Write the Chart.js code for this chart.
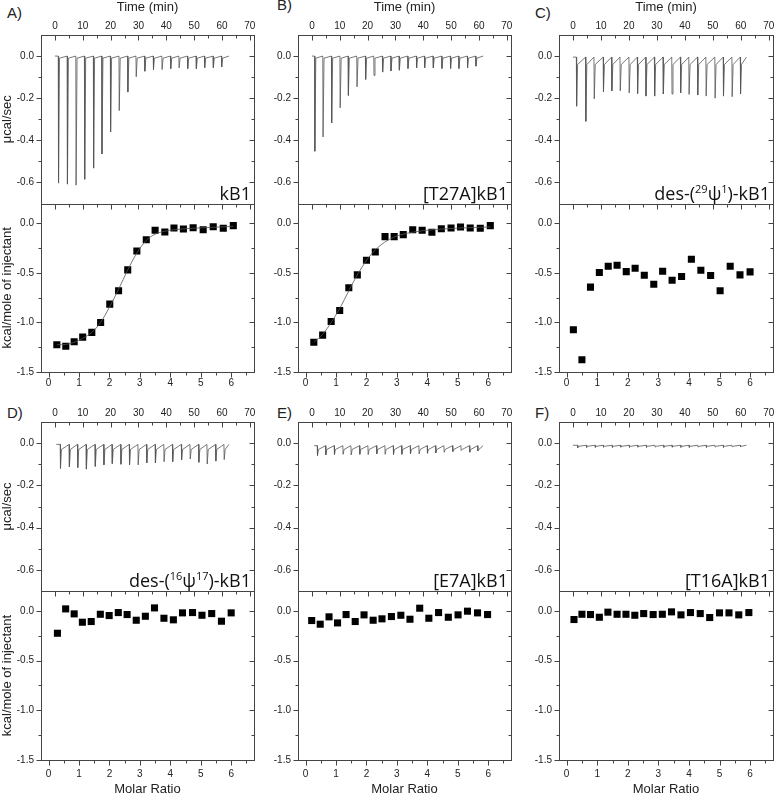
<!DOCTYPE html>
<html>
<head>
<meta charset="utf-8">
<script src="https://cdn.jsdelivr.net/npm/chart.js@4.4.1/dist/chart.umd.min.js"></script>
<style>
  html, body { margin: 0; padding: 0; overflow: hidden; background: #fff; }
  body { width: 778px; height: 794px; position: relative; }
  canvas { position: absolute; }
  .letter { position: absolute; font: 15px "Liberation Sans", Arial, sans-serif; line-height: 15px; color: #222; }
</style>
</head>
<body>
<div class="letter" style="left:7px;top:5px">A)</div>
<div class="letter" style="left:277px;top:-3px">B)</div>
<div class="letter" style="left:535px;top:5px">C)</div>
<div class="letter" style="left:7px;top:405px">D)</div>
<div class="letter" style="left:277px;top:405px">E)</div>
<div class="letter" style="left:535px;top:405px">F)</div>
<script>
// Axis tick labels
const timeTicks = [0, 10, 20, 30, 40, 50, 60, 70];
const molarTicks = [0, 1, 2, 3, 4, 5, 6];
const rateTicks = [-0.6, -0.4, -0.2, 0.0];
const heatTicks = [-1.5, -1.0, -0.5, 0.0];

// Raw thermograms: injection times (min), peak depth (ucal/sec), [baseline, level after peak], [start, end]
const injTimeA = [1.2, 4.4, 7.5, 10.6, 13.8, 16.8, 19.9, 23.0, 26.1, 29.1, 32.2, 35.3, 38.4, 41.5, 44.5, 47.6, 50.7, 53.7, 56.8, 59.8];
const peakA = [-0.603, -0.608, -0.613, -0.585, -0.532, -0.465, -0.36, -0.259, -0.171, -0.098, -0.072, -0.064, -0.064, -0.06, -0.056, -0.06, -0.06, -0.055, -0.055, -0.052];
const levelsA = [0.0, -0.01];
const spanA = [0, 62.5];

const injTimeB = [0.95, 3.9, 7.0, 10.05, 13.0, 16.1, 19.2, 22.2, 25.3, 28.3, 31.3, 34.4, 37.5, 40.4, 43.5, 46.6, 49.7, 52.7, 55.8, 58.8];
const peakB = [-0.452, -0.384, -0.317, -0.246, -0.187, -0.146, -0.111, -0.092, -0.076, -0.071, -0.067, -0.059, -0.056, -0.056, -0.056, -0.059, -0.059, -0.059, -0.056, -0.048];
const levelsB = [0.0, -0.01];
const spanB = [0, 61.5];

const injTimeC = [1.2, 4.5, 7.5, 10.8, 13.8, 16.8, 20.0, 23.0, 26.0, 29.1, 32.2, 35.3, 38.4, 41.4, 44.5, 47.5, 50.7, 53.7, 56.8, 59.8];
const peakC = [-0.238, -0.31, -0.203, -0.17, -0.165, -0.165, -0.175, -0.178, -0.19, -0.19, -0.18, -0.18, -0.175, -0.182, -0.185, -0.19, -0.2, -0.19, -0.193, -0.18];
const levelsC = [-0.005, -0.04];
const spanC = [0, 62];

const injTimeD = [1.9, 5.1, 8.1, 11.2, 14.4, 17.5, 20.5, 23.6, 26.7, 29.8, 32.9, 36.0, 39.1, 42.2, 45.4, 48.5, 51.6, 54.6, 57.7, 60.7];
const peakD = [-0.12, -0.113, -0.116, -0.123, -0.11, -0.103, -0.097, -0.1, -0.103, -0.103, -0.094, -0.094, -0.088, -0.088, -0.08, -0.075, -0.091, -0.099, -0.085, -0.078];
const levelsD = [-0.006, -0.03];
const spanD = [0.5, 62.5];

const injTimeE = [1.9, 4.9, 8.0, 11.1, 14.0, 17.1, 20.1, 23.2, 26.2, 29.2, 32.2, 35.3, 38.4, 41.4, 44.4, 47.4, 50.5, 53.5, 56.6, 59.5];
const peakE = [-0.059, -0.056, -0.054, -0.053, -0.056, -0.053, -0.054, -0.051, -0.053, -0.054, -0.053, -0.051, -0.051, -0.048, -0.046, -0.043, -0.04, -0.035, -0.043, -0.037];
const levelsE = [-0.012, -0.03];
const spanE = [0.8, 61.5];

const injTimeF = [1.6, 4.8, 7.9, 10.8, 14.0, 17.0, 20.1, 23.1, 26.2, 29.3, 32.4, 35.4, 38.5, 41.5, 44.6, 47.6, 50.7, 53.7, 56.8, 59.8];
const peakF = [-0.022, -0.02, -0.02, -0.019, -0.02, -0.019, -0.02, -0.019, -0.02, -0.019, -0.02, -0.019, -0.02, -0.02, -0.019, -0.02, -0.019, -0.02, -0.018, -0.017];
const levelsF = [-0.01, -0.015];
const spanF = [0, 62];

// Integrated heats: molar ratio, kcal/mole of injectant
const ratioA = [0.27, 0.565, 0.84, 1.12, 1.42, 1.71, 2.01, 2.30, 2.60, 2.90, 3.21, 3.50, 3.82, 4.12, 4.43, 4.75, 5.08, 5.41, 5.74, 6.07];
const heatA = [-1.225, -1.24, -1.195, -1.148, -1.10, -1.0, -0.815, -0.68, -0.47, -0.28, -0.165, -0.07, -0.087, -0.047, -0.057, -0.044, -0.064, -0.034, -0.05, -0.023];
const fitRatioA = [0.27, 0.56, 0.84, 1.12, 1.42, 1.71, 2.0, 2.3, 2.6, 2.9, 3.2, 3.5, 3.82, 4.12, 4.75, 5.41, 6.07];
const fitHeatA = [-1.225, -1.222, -1.2, -1.16, -1.1, -1.0, -0.845, -0.665, -0.47, -0.3, -0.175, -0.11, -0.08, -0.065, -0.05, -0.04, -0.03];

const ratioB = [0.27, 0.56, 0.84, 1.12, 1.42, 1.70, 2.0, 2.29, 2.61, 2.91, 3.21, 3.52, 3.83, 4.15, 4.46, 4.78, 5.09, 5.41, 5.74, 6.07];
const heatB = [-1.20, -1.128, -0.99, -0.88, -0.65, -0.52, -0.372, -0.29, -0.134, -0.134, -0.114, -0.064, -0.07, -0.09, -0.054, -0.047, -0.037, -0.047, -0.05, -0.023];
const fitRatioB = [0.27, 0.56, 0.84, 1.12, 1.42, 1.7, 2.0, 2.3, 2.6, 2.9, 3.2, 3.52, 3.83, 4.46, 5.09, 5.74, 6.07];
const fitHeatB = [-1.2, -1.12, -1.0, -0.86, -0.68, -0.52, -0.375, -0.265, -0.19, -0.14, -0.11, -0.09, -0.075, -0.058, -0.047, -0.04, -0.036];

const ratioC = [0.22, 0.5, 0.78, 1.07, 1.36, 1.65, 1.95, 2.24, 2.54, 2.85, 3.14, 3.45, 3.76, 4.08, 4.39, 4.71, 5.02, 5.35, 5.67, 6.0];
const heatC = [-1.074, -1.376, -0.644, -0.497, -0.433, -0.423, -0.487, -0.453, -0.523, -0.614, -0.483, -0.574, -0.537, -0.362, -0.473, -0.527, -0.681, -0.433, -0.52, -0.49];

const ratioD = [0.29, 0.56, 0.84, 1.11, 1.40, 1.70, 1.99, 2.29, 2.58, 2.88, 3.18, 3.48, 3.79, 4.10, 4.40, 4.73, 5.04, 5.36, 5.68, 6.0];
const heatD = [-0.225, 0.02, -0.03, -0.114, -0.107, -0.034, -0.047, -0.017, -0.037, -0.094, -0.054, 0.03, -0.074, -0.09, -0.02, -0.017, -0.044, -0.027, -0.104, -0.02];

const ratioE = [0.2, 0.48, 0.77, 1.05, 1.33, 1.63, 1.92, 2.22, 2.51, 2.82, 3.13, 3.43, 3.75, 4.05, 4.37, 4.69, 5.01, 5.32, 5.65, 5.98];
const heatE = [-0.097, -0.134, -0.06, -0.121, -0.037, -0.107, -0.04, -0.094, -0.08, -0.057, -0.044, -0.084, 0.027, -0.074, -0.017, -0.064, -0.04, -0.003, -0.02, -0.037];

const ratioF = [0.24, 0.5, 0.78, 1.07, 1.35, 1.65, 1.94, 2.23, 2.52, 2.83, 3.13, 3.43, 3.74, 4.05, 4.37, 4.68, 5.0, 5.31, 5.63, 5.96];
const heatF = [-0.087, -0.034, -0.037, -0.064, -0.013, -0.034, -0.034, -0.044, -0.027, -0.037, -0.034, -0.01, -0.04, -0.017, -0.027, -0.067, -0.02, -0.02, -0.04, -0.017];

// Sample names, [text, superscript?]
const sampleA = [['kB1']];
const sampleB = [['[T27A]kB1']];
const sampleC = [['des-('], ['29', true], ['\u03C8'], ['1', true], [')-kB1']];
const sampleD = [['des-('], ['16', true], ['\u03C8'], ['17', true], [')-kB1']];
const sampleE = [['[E7A]kB1']];
const sampleF = [['[T16A]kB1']];

const tickFont = { family: '"Liberation Sans", Arial, sans-serif', size: 10 };
const titleFont = { family: '"Liberation Sans", Arial, sans-serif', size: 13 };
const textColor = '#222';
const frameColor = '#444';

function buildTrace(span, times, peaks, levels) {
    const pts = [{ x: span[0], y: levels[0] }];
    times.forEach((t, i) => {
        pts.push({ x: t, y: levels[0] }, { x: t + 0.1, y: peaks[i] }, { x: t + 0.45, y: levels[1] });
    });
    pts.push({ x: span[1], y: levels[0] });
    return pts;
}

function toPoints(xs, ys) {
    return xs.map((x, i) => ({ x: x, y: ys[i] }));
}

// Box outline plus Origin-style ticks: horizontal edges tick downwards, vertical edges tick to the left
const frameTicks = {
    id: 'frameTicks',
    afterDraw(chart) {
        const { ctx, chartArea } = chart;
        const { xTime, xMol, yTop, yBot } = chart.scales;
        const L = Math.round(chartArea.left) + 0.5;
        const R = Math.round(chartArea.right) + 0.5;
        ctx.save();
        ctx.strokeStyle = frameColor;
        ctx.lineWidth = 1;
        [yTop, yBot].forEach(s => {
            const T = Math.round(s.top) + 0.5, B = Math.round(s.bottom) + 0.5;
            ctx.strokeRect(L, T, R - L, B - T);
        });
        ctx.beginPath();
        const hTicks = (scale, from, to, step, yEdge) => {
            const Y = Math.round(yEdge) + 0.5;
            for (let v = from, k = 0; v <= to + 1e-9; v += step, k++) {
                const X = Math.round(scale.getPixelForValue(v)) + 0.5;
                const len = k % 2 === 0 ? 5 : 3;
                ctx.moveTo(X, Y); ctx.lineTo(X, Y + len);
            }
        };
        const vTicks = (scale, from, to, step) => {
            for (let v = from, k = 0; v <= to + 1e-9; v += step, k++) {
                const Y = Math.round(scale.getPixelForValue(v)) + 0.5;
                const len = k % 2 === 0 ? 5 : 3;
                ctx.moveTo(L, Y); ctx.lineTo(L - len, Y);
                ctx.moveTo(R, Y); ctx.lineTo(R - len, Y);
            }
        };
        hTicks(xTime, 0, 70, 5, yTop.top);
        hTicks(xTime, 0, 70, 5, yTop.bottom);
        hTicks(xMol, 0, 6.5, 0.5, yBot.bottom);
        vTicks(yTop, -0.6, 0.0, 0.1);
        vTicks(yBot, -1.5, 0.0, 0.25);
        ctx.stroke();
        ctx.restore();
    }
};

const sampleLabel = {
    id: 'sampleLabel',
    afterDraw(chart, args, opts) {
        const { ctx } = chart;
        const big = '18px "Open Sans", sans-serif';
        const small = '11px "Open Sans", sans-serif';
        ctx.save();
        ctx.fillStyle = '#111';
        ctx.textBaseline = 'alphabetic';
        let w = 0;
        opts.parts.forEach(p => { ctx.font = p[1] ? small : big; w += ctx.measureText(p[0]).width; });
        let x = chart.chartArea.right - 3 - w;
        const y = chart.scales.yTop.bottom - 4;
        opts.parts.forEach(p => {
            ctx.font = p[1] ? small : big;
            ctx.fillText(p[0], x, p[1] ? y - 7 : y);
            x += ctx.measureText(p[0]).width;
        });
        ctx.restore();
    }
};

const panels = [
    { trace: buildTrace(spanA, injTimeA, peakA, levelsA), pts: toPoints(ratioA, heatA), fit: toPoints(fitRatioA, fitHeatA), name: sampleA },
    { trace: buildTrace(spanB, injTimeB, peakB, levelsB), pts: toPoints(ratioB, heatB), fit: toPoints(fitRatioB, fitHeatB), name: sampleB },
    { trace: buildTrace(spanC, injTimeC, peakC, levelsC), pts: toPoints(ratioC, heatC), fit: null, name: sampleC },
    { trace: buildTrace(spanD, injTimeD, peakD, levelsD), pts: toPoints(ratioD, heatD), fit: null, name: sampleD },
    { trace: buildTrace(spanE, injTimeE, peakE, levelsE), pts: toPoints(ratioE, heatE), fit: null, name: sampleE },
    { trace: buildTrace(spanF, injTimeF, peakF, levelsF), pts: toPoints(ratioF, heatF), fit: null, name: sampleF }
];

// Where each panel sits on the page
const frames = [
    { left: 0, top: 0, w: 259, h: 395, yw: 41, row: 0, yTitles: true },
    { left: 260, top: 0, w: 256, h: 395, yw: 38, row: 0 },
    { left: 518, top: 0, w: 260, h: 395, yw: 41, row: 0 },
    { left: 0, top: 390, w: 259, h: 408, yw: 41, row: 1, yTitles: true },
    { left: 260, top: 390, w: 256, h: 408, yw: 38, row: 1 },
    { left: 518, top: 390, w: 260, h: 408, yw: 41, row: 1 }
];

function fixedTicks(values) {
    return scale => { scale.ticks = values.map(v => ({ value: v })); };
}

function makeChart(panel, f) {
    const canvas = document.createElement('canvas');
    canvas.width = f.w;
    canvas.height = f.h;
    canvas.style.left = f.left + 'px';
    canvas.style.top = f.top + 'px';
    canvas.style.width = f.w + 'px';
    canvas.style.height = f.h + 'px';
    document.body.appendChild(canvas);

    const topAxisH = f.row === 0 ? 35 : 32;
    const bottomAxisH = f.row === 0 ? 23 : 38;
    const plain = { display: false, drawTicks: false };

    const datasets = [{
        type: 'line',
        data: panel.trace,
        xAxisID: 'xTime',
        yAxisID: 'yTop',
        borderColor: '#555',
        borderWidth: 0.8,
        pointRadius: 0,
        tension: 0
    }];
    if (panel.fit) {
        datasets.push({
            type: 'line',
            data: panel.fit,
            xAxisID: 'xMol',
            yAxisID: 'yBot',
            borderColor: '#555',
            borderWidth: 0.8,
            pointRadius: 0,
            cubicInterpolationMode: 'monotone'
        });
    }
    datasets.push({
        type: 'scatter',
        data: panel.pts,
        xAxisID: 'xMol',
        yAxisID: 'yBot',
        pointStyle: 'rect',
        pointRadius: 5,
        backgroundColor: '#000',
        borderWidth: 0
    });

    new Chart(canvas, {
        type: 'scatter',
        data: { datasets: datasets },
        plugins: [frameTicks, sampleLabel],
        options: {
            responsive: false,
            animation: false,
            events: [],
            layout: { padding: { left: 0, right: 4, top: 0, bottom: 0 } },
            plugins: {
                legend: { display: false },
                tooltip: { enabled: false },
                sampleLabel: { parts: panel.name }
            },
            scales: {
                xTime: {
                    type: 'linear', position: 'top', min: -5, max: 71.5,
                    afterBuildTicks: fixedTicks(timeTicks),
                    afterFit: s => { s.height = topAxisH; },
                    grid: plain, border: { display: false },
                    ticks: { font: tickFont, color: textColor, padding: 3, maxRotation: 0, autoSkip: false },
                    title: { display: f.row === 0, text: 'Time (min)', font: titleFont, color: textColor, padding: { top: 0, bottom: 0 } }
                },
                xMol: {
                    type: 'linear', position: 'bottom', min: -0.25, max: 6.75,
                    afterBuildTicks: fixedTicks(molarTicks),
                    afterFit: s => { s.height = bottomAxisH; },
                    grid: plain, border: { display: false },
                    ticks: { font: tickFont, color: textColor, padding: f.row === 0 ? 5 : 8, maxRotation: 0, autoSkip: false },
                    title: { display: f.row === 1, text: 'Molar Ratio', font: titleFont, color: textColor, padding: { top: 0, bottom: 0.5 } }
                },
                yBot: {
                    type: 'linear', position: 'left', stack: 'col', stackWeight: 1, min: -1.5, max: 0.2,
                    afterBuildTicks: fixedTicks(heatTicks),
                    afterFit: s => { s.width = f.yw; },
                    grid: plain, border: { display: false },
                    ticks: { font: tickFont, color: textColor, padding: 7, callback: v => v.toFixed(1) },
                    title: { display: !!f.yTitles, text: 'kcal/mole of injectant', font: titleFont, color: textColor, padding: { top: 0, bottom: 0 } }
                },
                yTop: {
                    type: 'linear', position: 'left', stack: 'col', stackWeight: 1, min: -0.7, max: 0.1,
                    afterBuildTicks: fixedTicks(rateTicks),
                    afterFit: s => { s.width = f.yw; },
                    grid: plain, border: { display: false },
                    ticks: { font: tickFont, color: textColor, padding: 7, callback: v => v.toFixed(1) },
                    title: { display: !!f.yTitles, text: '\u03BCcal/sec', font: titleFont, color: textColor, padding: { top: 0, bottom: 0 } }
                }
            }
        }
    });
}

panels.forEach((p, i) => makeChart(p, frames[i]));
</script>
</body>
</html>
